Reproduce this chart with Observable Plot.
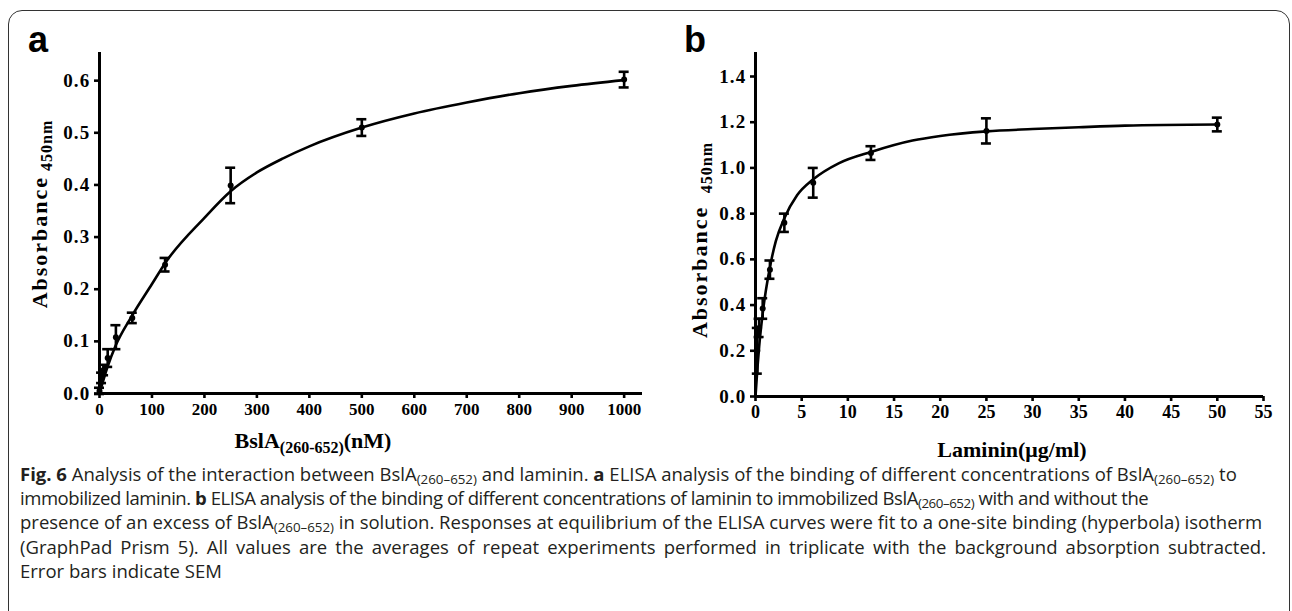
<!DOCTYPE html>
<html><head><meta charset="utf-8">
<script src="https://cdn.jsdelivr.net/npm/d3@7"></script>
<script src="https://cdn.jsdelivr.net/npm/@observablehq/plot@0.6"></script>
<style>
html,body{margin:0;padding:0;background:#fff;overflow:hidden;width:1292px;height:611px}
#fig{position:relative;width:1292px;height:611px;overflow:hidden;background:#fff}
#frame{position:absolute;left:8px;top:10px;width:1282px;height:660px;border:1.5px solid #333;border-radius:14px;box-sizing:border-box}
.plot{position:absolute;top:0}
.letter{position:absolute;font:bold 36px "Liberation Sans",Arial,sans-serif;line-height:36px;color:#000}
.ytitle{position:absolute;white-space:nowrap;font:bold 22px "Liberation Serif","Times New Roman",serif;transform:translate(-50%,-50%) rotate(-90deg);letter-spacing:2px;color:#000}
.xtitle{position:absolute;white-space:nowrap;font:bold 22px "Liberation Serif","Times New Roman",serif;transform:translate(-50%,-50%);color:#000}
.ysub{font-size:16px;position:relative;top:5px;letter-spacing:1px}
.xsub{font-size:16px;position:relative;top:5px}
#caption{position:absolute;left:20px;top:462px;width:1246px;font-family:"Open Sans","Noto Sans",sans-serif;font-size:16px;line-height:24.2px;color:#231f20;white-space:nowrap}
#caption .ln{display:block}
#caption .just{text-align:justify;text-align-last:justify;white-space:normal}
#caption sub{font-size:0.72em;vertical-align:-0.2em;line-height:0}
#l2{letter-spacing:-0.45px}
g[aria-label="y-axis tick label"] text{letter-spacing:1.2px}
</style>
</head><body>
<div id="fig">
  <div id="frame"></div>
  <div id="plotA" class="plot" style="left:0px"></div>
  <div id="plotB" class="plot" style="left:650px"></div>
  <div class="letter" style="left:28px;top:22px">a</div>
  <div class="letter" style="left:684px;top:22px">b</div>
  <div class="ytitle" style="left:40px;top:214px">Absorbance<span class="ysub"> 450nm</span></div>
  <div class="ytitle" style="left:700px;top:240px">Absorbance <span class="ysub">&nbsp;450nm</span></div>
  <div class="xtitle" style="left:313px;top:441px">BslA<span class="xsub">(260-652)</span>(nM)</div>
  <div class="xtitle" style="left:1012px;top:450px">Laminin(μg/ml)</div>
  <div id="caption">
    <span class="ln"><span id="l1"><b>Fig. 6</b> Analysis of the interaction between BslA<sub>(260–652)</sub> and laminin. <b>a</b> ELISA analysis of the binding of different concentrations of BslA<sub>(260–652)</sub> to</span></span>
    <span class="ln" id="l2">immobilized laminin. <b>b</b> ELISA analysis of the binding of different concentrations of laminin to immobilized BslA<sub>(260–652)</sub> with and without the</span>
    <span class="ln">presence of an excess of BslA<sub>(260–652)</sub> in solution. Responses at equilibrium of the ELISA curves were fit to a one-site binding (hyperbola) isotherm</span>
    <span class="ln just">(GraphPad Prism 5). All values are the averages of repeat experiments performed in triplicate with the background absorption subtracted.</span>
    <span class="ln">Error bars indicate SEM</span>
  </div>
</div>
<script>
// ---- Panel a data: BslA(260-652) concentration (nM) vs absorbance ----
const concA = [0, 3.9, 7.8, 15.6, 31.25, 62.5, 125, 250, 500, 1000];
const absA  = [0.005, 0.03, 0.045, 0.068, 0.108, 0.145, 0.247, 0.399, 0.51, 0.602];
const semA  = [0.006, 0.01, 0.01, 0.017, 0.023, 0.01, 0.013, 0.034, 0.016, 0.015];
// fitted curve
const fitXA = [0, 15, 30, 62.5, 100, 125, 200, 250, 300, 350, 400, 500, 600, 700, 800, 900, 1000];
const fitYA = [0, 0.05, 0.09, 0.15, 0.21, 0.25, 0.337, 0.388, 0.424, 0.451, 0.474, 0.51, 0.537, 0.558, 0.576, 0.59, 0.601];
const ticksXA = [0, 100, 200, 300, 400, 500, 600, 700, 800, 900, 1000];
const ticksYA = [0, 0.1, 0.2, 0.3, 0.4, 0.5, 0.6];

// ---- Panel b data: laminin concentration (µg/ml) vs absorbance ----
const concB = [0.195, 0.39, 0.78, 1.5625, 3.125, 6.25, 12.5, 25, 50];
const absB  = [0.20, 0.30, 0.385, 0.555, 0.76, 0.935, 1.065, 1.162, 1.19];
const semB  = [0.10, 0.04, 0.045, 0.04, 0.04, 0.065, 0.03, 0.055, 0.03];
const fitXB = [0, 0.2, 0.4, 0.8, 1.56, 2.2, 3.125, 4.5, 6.25, 9, 12.5, 17, 20, 25, 30, 35, 40, 50];
const fitYB = [0, 0.12, 0.22, 0.37, 0.565, 0.68, 0.78, 0.88, 0.95, 1.02, 1.07, 1.12, 1.14, 1.16, 1.17, 1.178, 1.185, 1.19];
const ticksXB = [0, 5, 10, 15, 20, 25, 30, 35, 40, 45, 50, 55];
const ticksYB = [0, 0.2, 0.4, 0.6, 0.8, 1.0, 1.2, 1.4];

function panel({conc, abs, sem, fitX, fitY, ticksX, ticksY, xDomain, yDomain, width, mL, mR, mB, xFont}) {
  const pts = conc.map((c, i) => ({x: c, y: abs[i], lo: abs[i] - sem[i], hi: abs[i] + sem[i]}));
  const fit = fitX.map((x, i) => ({x, y: fitY[i]}));
  const serif = "'Liberation Serif','Times New Roman',serif";
  return Plot.plot({
    width, height: 470,
    marginLeft: mL, marginRight: mR, marginTop: 52, marginBottom: mB,
    x: {domain: xDomain},
    y: {domain: yDomain},
    style: {fontFamily: serif, fontWeight: "bold", color: "#000", background: "transparent", overflow: "visible"},
    marks: [
      Plot.axisY({ticks: ticksY, tickFormat: d3.format(".1f"), tickSize: 5, tickPadding: 4, fontSize: 19, fontWeight: "bold", fontFamily: serif, strokeWidth: 2.6, label: null}),
      Plot.axisX({ticks: ticksX, tickFormat: d3.format("d"), tickSize: 5, tickPadding: 4, fontSize: xFont, fontWeight: "bold", fontFamily: serif, strokeWidth: 2.6, label: null}),
      Plot.ruleX([xDomain[0]], {y1: yDomain[0], y2: yDomain[1], strokeWidth: 3, stroke: "#000"}),
      Plot.ruleY([yDomain[0]], {x1: xDomain[0], x2: xDomain[1], strokeWidth: 3, stroke: "#000"}),
      Plot.line(fit, {x: "x", y: "y", curve: "monotone-x", strokeWidth: 2.6, stroke: "#000"}),
      Plot.ruleX(pts, {x: "x", y1: "lo", y2: "hi", strokeWidth: 2.6, stroke: "#000"}),
      Plot.ruleY(pts, {y: "hi", x1: "x", x2: "x", insetLeft: -5, insetRight: -5, strokeWidth: 2.6, stroke: "#000"}),
      Plot.ruleY(pts, {y: "lo", x1: "x", x2: "x", insetLeft: -5, insetRight: -5, strokeWidth: 2.6, stroke: "#000"}),
      Plot.dot(pts, {x: "x", y: "y", r: 3, fill: "#000", stroke: "none"})
    ]
  });
}

document.getElementById("plotA").append(panel({
  conc: concA, abs: absA, sem: semA, fitX: fitXA, fitY: fitYA, ticksX: ticksXA, ticksY: ticksYA,
  xDomain: [0, 1035], yDomain: [0, 0.654], width: 650, mL: 99, mR: 8, mB: 77, xFont: 17
}));
document.getElementById("plotB").append(panel({
  conc: concB, abs: absB, sem: semB, fitX: fitXB, fitY: fitYB, ticksX: ticksXB, ticksY: ticksYB,
  xDomain: [0, 55], yDomain: [0, 1.505], width: 642, mL: 105, mR: 29, mB: 74, xFont: 18
}));

// fit caption font size so that the first line spans the same width as in the reference
const cap = document.getElementById("caption");
const l1 = document.getElementById("l1");
const w = l1.getBoundingClientRect().width;
cap.style.fontSize = (16 * 1217 / w).toFixed(2) + "px";
</script>
</body></html>
